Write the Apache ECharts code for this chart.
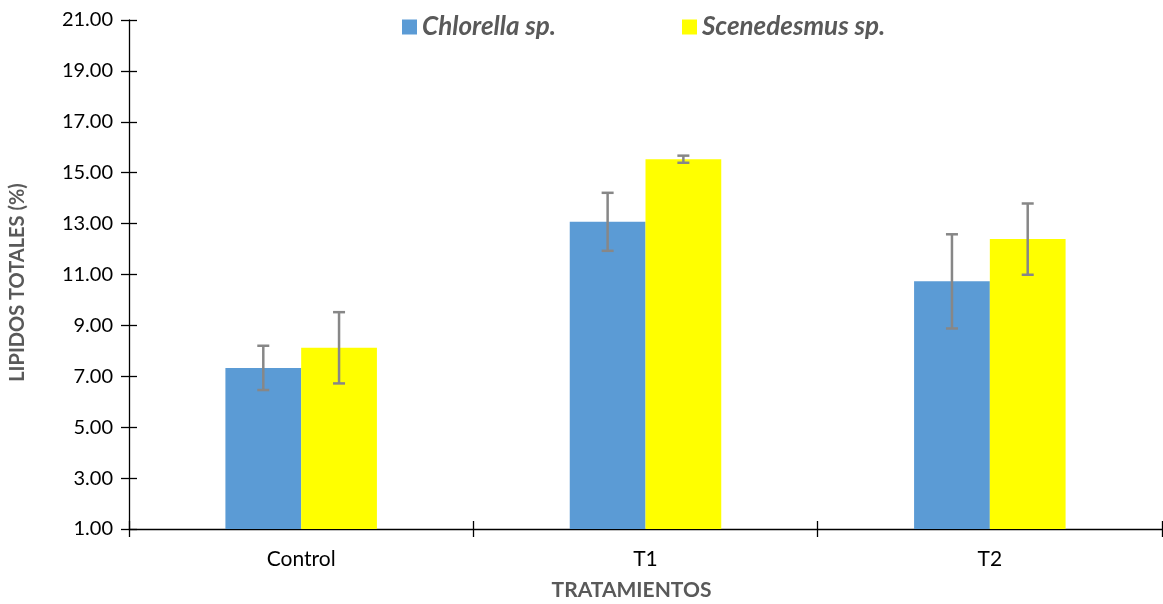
<!DOCTYPE html>
<html><head><meta charset="utf-8">
<script src="https://cdn.jsdelivr.net/npm/echarts@6/dist/echarts.min.js"></script>
<style>html,body{margin:0;padding:0;background:#fff;overflow:hidden}#c{width:1163px;height:604px}</style>
</head><body><div id="c"></div>
<script>
const categories = ['Control', 'T1', 'T2'];
const chlorella = [7.33, 13.07, 10.73];
const chlorellaErr = [0.87, 1.14, 1.85];
const scenedesmus = [8.12, 15.53, 12.39];
const scenedesmusErr = [1.40, 0.14, 1.40];
const yTicks = { min: 1, max: 21, interval: 2 };

const FONT = 'Lato, "Open Sans", sans-serif';
const GAP = 0.56;

function errSeries(name, vals, errs, side) {
  return {
    type: 'custom', name: name + ' err', z: 10, silent: true,
    data: vals.map((v, i) => [i, v, errs[i]]),
    renderItem: function (params, api) {
      const i = api.value(0), v = api.value(1), e = api.value(2);
      const catW = api.size([1, 0])[0];
      const bw = catW * (1 - GAP) / 2;
      const top = api.coord([i, v + e]);
      const bot = api.coord([i, v - e]);
      const x = top[0] + side * bw / 2;
      const cap = 6;
      const st = { stroke: '#878787', lineWidth: 2.5, fill: null };
      return { type: 'group', children: [
        { type: 'line', shape: { x1: x, y1: top[1], x2: x, y2: bot[1] }, style: st },
        { type: 'line', shape: { x1: x - cap, y1: top[1], x2: x + cap, y2: top[1] }, style: st },
        { type: 'line', shape: { x1: x - cap, y1: bot[1], x2: x + cap, y2: bot[1] }, style: st }
      ]};
    }
  };
}

const legendText = { fontFamily: FONT, fontSize: 26, fontWeight: 'bold', fontStyle: 'italic', color: '#595959' };

const chart = echarts.init(document.getElementById('c'));
chart.setOption({
  animation: false,
  textStyle: { fontFamily: FONT },
  grid: { left: 129, right: 1, top: 20, bottom: 75, containLabel: false, outerBoundsMode: 'none' },
  legend: [
    { top: 9, left: 397, itemWidth: 15, itemHeight: 15, itemGap: 5, icon: 'rect', data: ['Chlorella sp.'], textStyle: legendText },
    { top: 9, left: 677, itemWidth: 15, itemHeight: 15, itemGap: 5, icon: 'rect', data: ['Scenedesmus sp.'], textStyle: legendText }
  ],
  xAxis: [{
    type: 'category', data: categories,
    axisLine: { lineStyle: { color: '#000', width: 1.3 } },
    axisTick: { show: true, length: 8, lineStyle: { color: '#000', width: 1.3 } },
    axisLabel: { color: '#000', fontSize: 21, margin: 20, fontFamily: FONT },
    name: 'TRATAMIENTOS', nameLocation: 'middle', nameGap: 51,
    nameTextStyle: { color: '#595959', fontSize: 21, fontWeight: 'bold', fontFamily: FONT, padding: [0, 28, 0, 0] }
  }, {
    type: 'category', data: categories, position: 'bottom',
    axisLine: { show: false },
    axisTick: { show: true, inside: true, length: 8, lineStyle: { color: '#000', width: 1.3 } },
    axisLabel: { show: false }
  }],
  yAxis: [{
    type: 'value', min: yTicks.min, max: yTicks.max, interval: yTicks.interval,
    splitLine: { show: false },
    axisLine: { show: true, lineStyle: { color: '#000', width: 1.3 } },
    axisTick: { show: true, length: 8, lineStyle: { color: '#000', width: 1.3 } },
    axisLabel: { color: '#000', fontSize: 20, margin: 16, fontFamily: FONT, formatter: v => v.toFixed(2) },
    name: 'LIPIDOS TOTALES (%)', nameLocation: 'middle', nameGap: 101, nameRotate: 90,
    nameTextStyle: { color: '#595959', fontSize: 20, fontWeight: 'bold', fontFamily: FONT, padding: [0, 16, 0, 0] }
  }, {
    type: 'value', min: yTicks.min, max: yTicks.max, interval: yTicks.interval, position: 'left',
    splitLine: { show: false }, axisLine: { show: false },
    axisTick: { show: true, inside: true, length: 8, lineStyle: { color: '#000', width: 1.3 } },
    axisLabel: { show: false }
  }],
  series: [
    { name: 'Chlorella sp.', type: 'bar', data: chlorella, barGap: '0%', barCategoryGap: (GAP * 100) + '%',
      itemStyle: { color: '#5b9bd5' } },
    { name: 'Scenedesmus sp.', type: 'bar', data: scenedesmus, barGap: '0%', barCategoryGap: (GAP * 100) + '%',
      itemStyle: { color: '#ffff00' } },
    errSeries('Chlorella sp.', chlorella, chlorellaErr, -1),
    errSeries('Scenedesmus sp.', scenedesmus, scenedesmusErr, 1)
  ]
});
</script></body></html>
